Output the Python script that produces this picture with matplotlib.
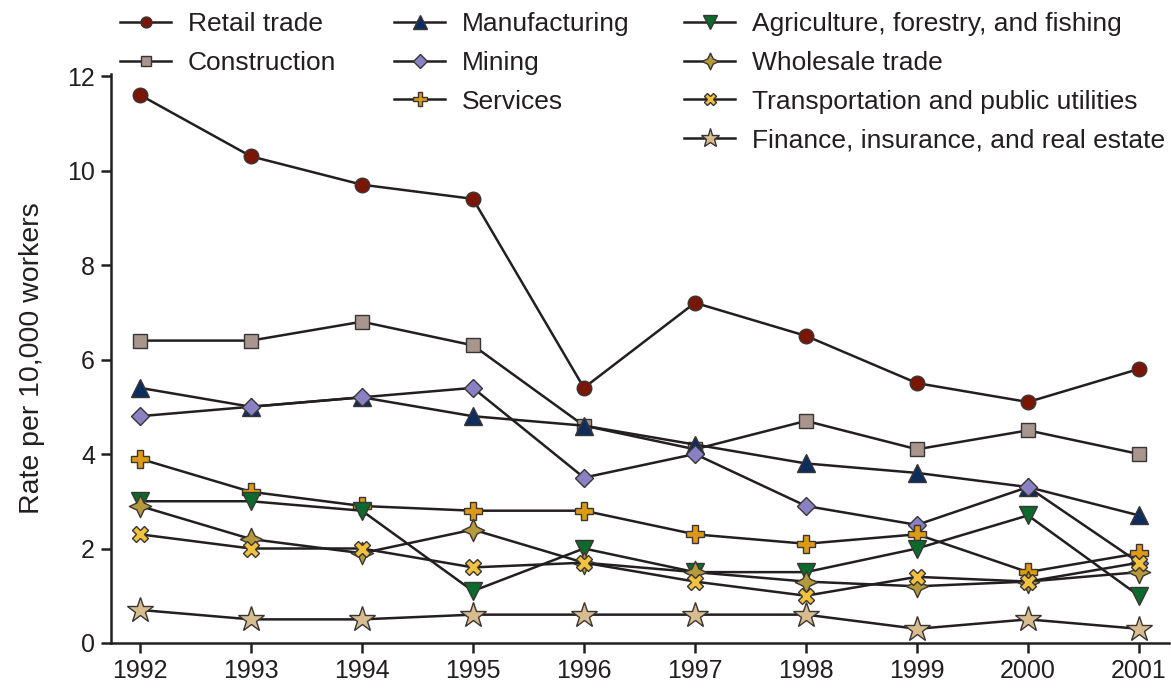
import matplotlib
matplotlib.use("Agg")
import matplotlib.pyplot as plt
from matplotlib.path import Path

plt.rcParams['font.family'] = ['Liberation Sans', 'DejaVu Sans']

years = [1992, 1993, 1994, 1995, 1996, 1997, 1998, 1999, 2000, 2001]

retail = [11.6, 10.3, 9.7, 9.4, 5.4, 7.2, 6.5, 5.5, 5.1, 5.8]
construction = [6.4, 6.4, 6.8, 6.3, 4.6, 4.1, 4.7, 4.1, 4.5, 4.0]
manufacturing = [5.4, 5.0, 5.2, 4.8, 4.6, 4.2, 3.8, 3.6, 3.3, 2.7]
mining = [4.8, 5.0, 5.2, 5.4, 3.5, 4.0, 2.9, 2.5, 3.3, 1.7]
services = [3.9, 3.2, 2.9, 2.8, 2.8, 2.3, 2.1, 2.3, 1.5, 1.9]
agriculture = [3.0, 3.0, 2.8, 1.1, 2.0, 1.5, 1.5, 2.0, 2.7, 1.0]
wholesale = [2.9, 2.2, 1.9, 2.4, 1.7, 1.5, 1.3, 1.2, 1.3, 1.5]
transport = [2.3, 2.0, 2.0, 1.6, 1.7, 1.3, 1.0, 1.4, 1.3, 1.7]
finance = [0.7, 0.5, 0.5, 0.6, 0.6, 0.6, 0.6, 0.3, 0.5, 0.3]

labels = ["Retail trade", "Construction", "Manufacturing", "Mining", "Services",
          "Agriculture, forestry, and fishing", "Wholesale trade",
          "Transportation and public utilities", "Finance, insurance, and real estate"]

# 4-pointed star marker for wholesale trade
s = 0.32
star4 = Path([(0, 1), (s, s), (1, 0), (s, -s), (0, -1), (-s, -s), (-1, 0), (-s, s), (0, 1)],
             [Path.MOVETO] + [Path.LINETO] * 7 + [Path.CLOSEPOLY])

styles = {
    "Retail trade": dict(marker='o', color='#7A1606', ms=10.5),
    "Construction": dict(marker='s', color='#A8968E', ms=10),
    "Manufacturing": dict(marker='^', color='#0E2D5C', ms=13),
    "Mining": dict(marker='D', color='#8A80C4', ms=9.5),
    "Services": dict(marker='P', color='#DE9A12', ms=12.5),
    "Agriculture, forestry, and fishing": dict(marker='v', color='#0C6A2C', ms=13),
    "Wholesale trade": dict(marker=star4, color='#B59A3C', ms=16),
    "Transportation and public utilities": dict(marker='X', color='#F2C23E', ms=11.5),
    "Finance, insurance, and real estate": dict(marker='*', color='#D6BC8E', ms=19),
}

data = {
    "Retail trade": retail,
    "Construction": construction,
    "Manufacturing": manufacturing,
    "Mining": mining,
    "Services": services,
    "Agriculture, forestry, and fishing": agriculture,
    "Wholesale trade": wholesale,
    "Transportation and public utilities": transport,
    "Finance, insurance, and real estate": finance,
}

W, H = 1171, 689
fig = plt.figure(figsize=(W / 100, H / 100), dpi=100)
ax = fig.add_axes([111 / W, 46 / H, (1169 - 111) / W, (643 - 76) / H * 12.05 / 12])

ink = '#231F20'
handles = {}
for name in labels:
    st = styles[name]
    h, = ax.plot(years, data[name], color=ink, lw=1.8,
                 marker=st['marker'], markersize=st['ms'],
                 markerfacecolor=st['color'], markeredgecolor='#3A3535',
                 markeredgewidth=1.0, label=name, clip_on=False)
    handles[name] = h

ax.set_xlim(1991.74, 2001.27)
ax.set_ylim(0, 12.05)
ax.set_xticks(years)
ax.set_yticks(range(0, 13, 2))
ax.tick_params(axis='both', labelsize=18, width=1.8, length=7.5, color=ink,
               labelcolor=ink, pad=4)
for sp in ['top', 'right']:
    ax.spines[sp].set_visible(False)
for sp in ['left', 'bottom']:
    ax.spines[sp].set_linewidth(1.8)
    ax.spines[sp].set_color(ink)
ax.set_ylabel("Rate per 10,000 workers", fontsize=20.5, color=ink, labelpad=16)

columns = [
    (120, ["Retail trade", "Construction"]),
    (394, ["Manufacturing", "Mining", "Services"]),
    (684, ["Agriculture, forestry, and fishing", "Wholesale trade",
           "Transportation and public utilities", "Finance, insurance, and real estate"]),
]
for x0, names in columns:
    leg = fig.legend([handles[n] for n in names], names, loc='upper left',
                     bbox_to_anchor=(x0 / W, 1 - 12 / H), frameon=False,
                     fontsize=19, handlelength=1.95, handletextpad=0.62,
                     labelspacing=0.56, markerscale=0.75, borderpad=0,
                     borderaxespad=0)
    for t in leg.get_texts():
        t.set_color(ink)

fig.savefig("out.png", dpi=100)
